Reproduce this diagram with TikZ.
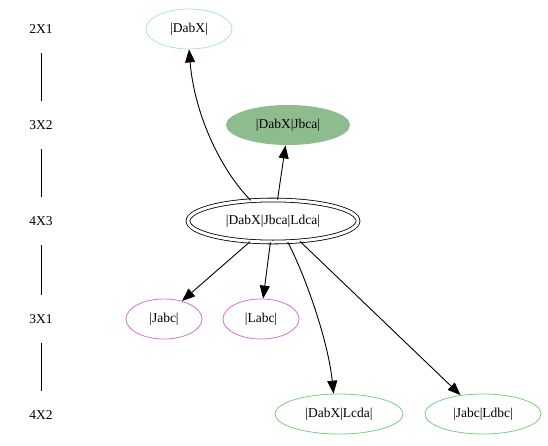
\documentclass[tikz,border=0pt]{standalone}
\usepackage{fontspec}
\setmainfont{Liberation Serif}
\usetikzlibrary{shapes.geometric,arrows.meta}
\definecolor{cyanline}{HTML}{B0E0E6}
\definecolor{violetline}{HTML}{DA70D6}
\definecolor{greenline}{HTML}{7CCD7C}
\definecolor{greenfill}{HTML}{8FBC8F}
\begin{document}
\begin{tikzpicture}[x=1pt,y=-1pt,
  every node/.style={font=\fontsize{13.5}{15}\selectfont},
  ov/.style={ellipse, draw, line width=0.8pt, inner sep=0pt, minimum height=40pt},
  rank/.style={inner sep=0pt, minimum height=48pt, minimum width=30pt},
  arr/.style={line width=0.9pt, -{Triangle[length=13pt,width=10pt]}},
  rl/.style={line width=0.9pt}]
\useasboundingbox (0,0) rectangle (548,445);
% rank labels
\node[rank] (r1) at (41,29) {2X1};
\node[rank] (r2) at (41,125) {3X2};
\node[rank] (r3) at (41,221) {4X3};
\node[rank] (r4) at (41,319) {3X1};
\node[rank] (r5) at (41,415) {4X2};
\draw[rl] (r1) -- (r2);
\draw[rl] (r2) -- (r3);
\draw[rl] (r3) -- (r4);
\draw[rl] (r4) -- (r5);
% nodes
\node[ov, draw=cyanline, minimum width=86pt] (d) at (189,29) {|DabX|};
\node[ov, draw=none, fill=greenfill, minimum width=124pt] (j) at (288,125) {|DabX|Jbca|};
\node[ellipse, draw, line width=0.8pt, double, double distance=3pt, inner sep=0pt, minimum width=170pt, minimum height=42pt] (m) at (273,221) {|DabX|Jbca|Ldca|};
\node[ov, draw=violetline, minimum width=76pt] (ja) at (164,319) {|Jabc|};
\node[ov, draw=violetline, minimum width=76pt] (la) at (261,319) {|Labc|};
\node[ov, draw=greenline, minimum width=128pt] (lc) at (339,414) {|DabX|Lcda|};
\node[ov, draw=greenline, minimum width=116pt] (ld) at (483,414) {|Jabc|Ldbc|};
% edges
\draw[arr] (m.137) .. controls (225,175) and (195,120) .. (d.south);
\draw[arr] (m.78) -- (j.263);
\draw[arr] (m.222) -- (ja.45);
\draw[arr] (m.263) -- (la.84);
\draw[arr] (m.305) .. controls (305,275) and (328,340) .. (lc.105);
\draw[arr] (m.323) -- (ld.140);
\end{tikzpicture}
\end{document}
